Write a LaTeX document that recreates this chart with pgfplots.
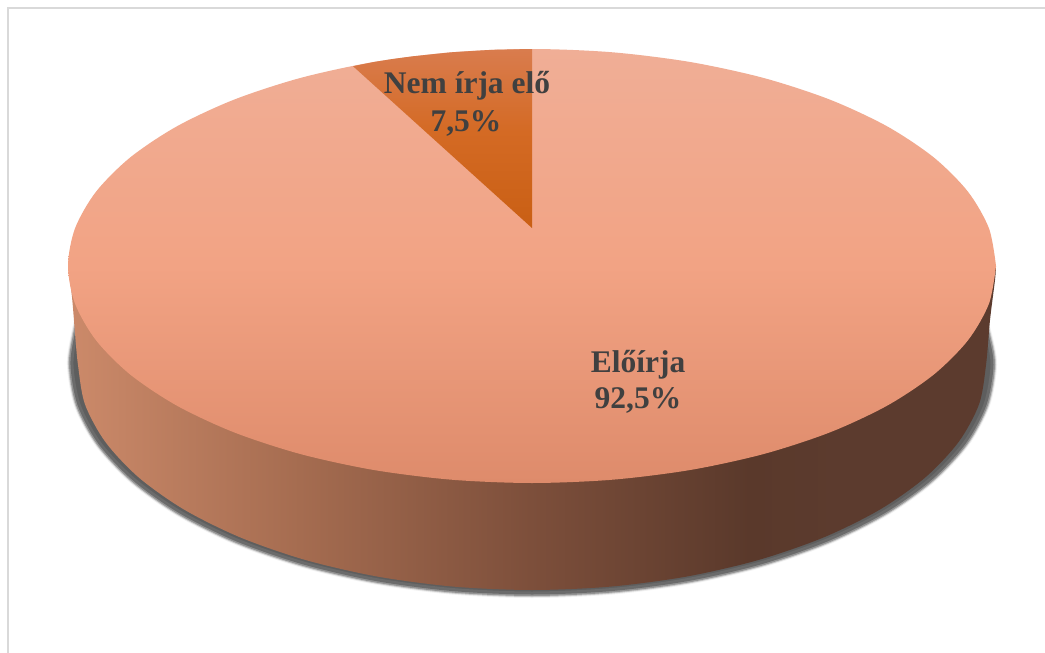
\documentclass[border=0pt]{standalone}
\usepackage{pgfplots}
\usepackage{pgfplotstable}
\usepackage{fontspec}
\setmainfont{Liberation Serif}
\pgfplotsset{compat=1.18}
\definecolor{tA}{HTML}{DE8B6B}
\definecolor{tB}{HTML}{F2A384}
\definecolor{tC}{HTML}{F0AE96}
\definecolor{sA}{HTML}{CC8A6A}
\definecolor{sB}{HTML}{A56C50}
\definecolor{sC}{HTML}{7D4F3B}
\definecolor{sD}{HTML}{5A392B}
\definecolor{sE}{HTML}{5C3B2E}
\definecolor{wA}{HTML}{C95F14}
\definecolor{wB}{HTML}{D46A24}
\definecolor{wC}{HTML}{D97C4E}
\definecolor{lab}{HTML}{404040}
\definecolor{frame}{HTML}{D9D9D9}
\pgfdeclareverticalshading{topg}{100bp}{color(0bp)=(tA); color(25bp)=(tA); color(50bp)=(tB); color(75bp)=(tC); color(100bp)=(tC)}
\pgfdeclarehorizontalshading{sideg}{100bp}{color(0bp)=(sA); color(25bp)=(sA); color(37.5bp)=(sB); color(49.9bp)=(sC); color(61.7bp)=(sD); color(66.6bp)=(sE); color(100bp)=(sE)}
\pgfdeclareverticalshading{wedgeg}{100bp}{color(0bp)=(wA); color(25bp)=(wA); color(52bp)=(wB); color(75bp)=(wC); color(100bp)=(wC)}
\pgfplotstableread{
x y
996 266
988.95 303.68
968.02 340.22
933.84 374.5
887.44 405.49
830.25 432.23
764 453.93
690.7 469.91
612.57 479.7
532 483
451.43 479.7
373.3 469.91
300 453.93
233.75 432.23
176.56 405.49
130.16 374.5
95.98 340.22
75.05 303.68
68 266
75.05 228.32
95.98 191.78
130.16 157.5
176.56 126.51
233.75 99.77
300 78.07
373.3 62.09
451.43 52.3
532 49
612.57 52.3
690.7 62.09
764 78.07
830.25 99.77
887.44 126.51
933.84 157.5
968.02 191.78
988.95 228.32
996 266
}\toptable
\pgfplotstableread{
x y
68 266
72 297
75 333
78 365
84.9 404.07
105.4 441.95
138.8 477.5
184.2 509.63
240.2 537.36
305 559.85
376.7 576.43
453.2 586.58
532 590
610.8 586.58
687.3 576.43
759 559.85
823.8 537.36
879.8 509.63
925.2 477.5
958.6 441.95
979.1 404.07
986 365
990 320
995 280
996 266
}\sidetable
\pgfplotstableread{
x y
84 300
76 335
72 365
79 404.6
99.7 443
133.6 479
179.6 511.6
236.3 539.7
302 562.5
374.7 579.3
452.1 589.5
532 593
611.9 589.5
689.3 579.3
762 562.5
827.7 539.7
884.4 511.6
930.4 479
964.3 443
985 404.6
992 365
987 335
978 305
}\shadowtable
\pgfplotstableread{
x y
353 66.2
373.3 62.09
392 59.1
412 56.4
451.43 52.3
492 49.8
532 49
532 228
353 66.2
}\wedgetable
\begin{document}
\begin{tikzpicture}
\begin{axis}[
  scale only axis, width=1045pt, height=653pt,
  xmin=0, xmax=1045, ymin=0, ymax=653, y dir=reverse,
  hide axis, no markers, clip=true]
\addplot[draw=none, fill=white] coordinates {(0,0) (1045,0) (1045,653) (0,653)};
\addplot[draw=frame, line width=2pt] coordinates {(1045,8) (8,8) (8,653)};
\addplot[smooth, draw=black!6, line width=10pt, line join=round] table[x=x,y=y] {\shadowtable};
\addplot[smooth, draw=black!22, line width=8pt, line join=round] table[x=x,y=y] {\shadowtable};
\addplot[smooth, draw=black!42, line width=6pt, line join=round] table[x=x,y=y] {\shadowtable};
\addplot[smooth, draw=black!58, line width=3pt, line join=round, fill=black!63] table[x=x,y=y] {\shadowtable};
\addplot[smooth, draw=none, shade, shading=sideg] table[x=x,y=y] {\sidetable};
\addplot[smooth, draw=none, shade, shading=topg] table[x=x,y=y] {\toptable};
\addplot[draw=none, shade, shading=wedgeg] table[x=x,y=y] {\wedgetable};
\node[anchor=base, text=lab, font=\fontsize{31.5}{36}\selectfont\bfseries] at (axis cs:467,93) {Nem írja elő};
\node[anchor=base, text=lab, font=\fontsize{31.5}{36}\selectfont\bfseries] at (axis cs:466,131) {7,5\%};
\node[anchor=base, text=lab, font=\fontsize{31.5}{36}\selectfont\bfseries] at (axis cs:638,372) {Előírja};
\node[anchor=base, text=lab, font=\fontsize{31.5}{36}\selectfont\bfseries] at (axis cs:638,408) {92,5\%};
\end{axis}
\end{tikzpicture}
\end{document}
